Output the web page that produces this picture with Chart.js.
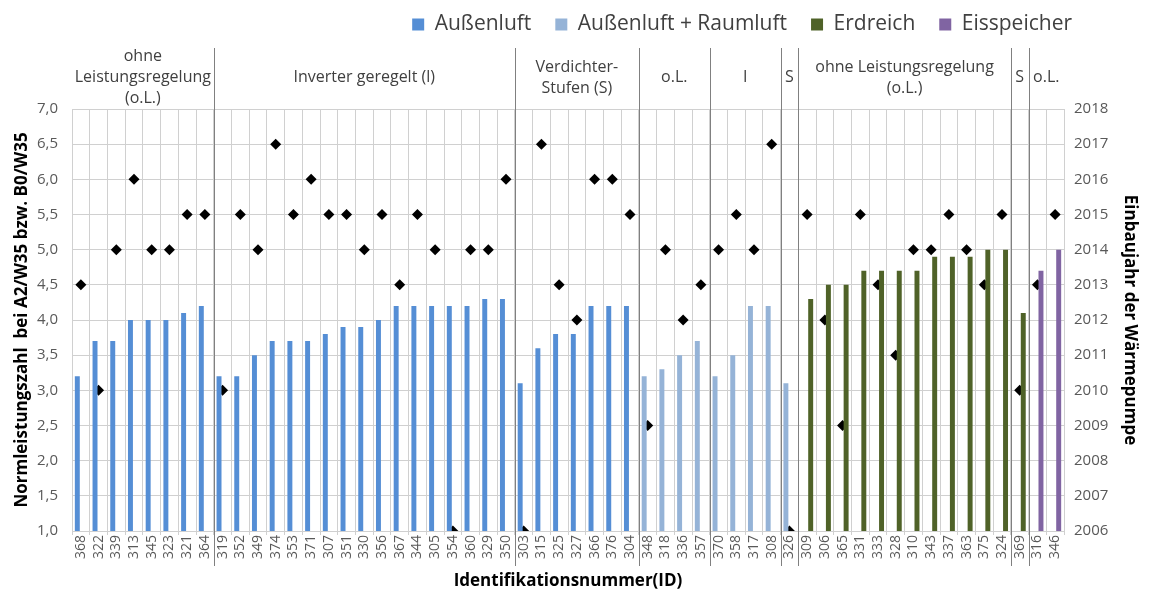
<!DOCTYPE html>
<html>
<head>
<meta charset="utf-8">
<script src="https://cdn.jsdelivr.net/npm/chart.js@4.4.0/dist/chart.umd.min.js"></script>
<style>
  html, body { margin: 0; padding: 0; background: #fff; }
  #wrap { width: 1150px; height: 591px; }
</style>
</head>
<body>
<div id="wrap"><canvas id="chart"></canvas></div>
<script>
// Identifikationsnummern, in Reihenfolge der Gruppen
const ids = ['368','322','339','313','345','323','321','364',
  '319','352','349','374','353','371','307','351','330','356','367','344','305','354','360','329','350',
  '303','315','325','327','366','376','304',
  '348','318','336','357',
  '370','358','317','308',
  '326',
  '309','306','365','331','333','328','310','343','337','363','375','324',
  '369',
  '316','346'];

// Normleistungszahl je Wärmequelle
const aussenluft = [3.2,3.7,3.7,4.0,4.0,4.0,4.1,4.2,
  3.2,3.2,3.5,3.7,3.7,3.7,3.8,3.9,3.9,4.0,4.2,4.2,4.2,4.2,4.2,4.3,4.3,
  3.1,3.6,3.8,3.8,4.2,4.2,4.2,
  null,null,null,null, null,null,null,null, null,
  null,null,null,null,null,null,null,null,null,null,null,null, null, null,null];
const raumluft = [null,null,null,null,null,null,null,null,
  null,null,null,null,null,null,null,null,null,null,null,null,null,null,null,null,null,
  null,null,null,null,null,null,null,
  3.2,3.3,3.5,3.7, 3.2,3.5,4.2,4.2, 3.1,
  null,null,null,null,null,null,null,null,null,null,null,null, null, null,null];
const erdreich = [null,null,null,null,null,null,null,null,
  null,null,null,null,null,null,null,null,null,null,null,null,null,null,null,null,null,
  null,null,null,null,null,null,null,
  null,null,null,null, null,null,null,null, null,
  4.3,4.5,4.5,4.7,4.7,4.7,4.7,4.9,4.9,4.9,5.0,5.0, 4.1, null,null];
const eisspeicher = [null,null,null,null,null,null,null,null,
  null,null,null,null,null,null,null,null,null,null,null,null,null,null,null,null,null,
  null,null,null,null,null,null,null,
  null,null,null,null, null,null,null,null, null,
  null,null,null,null,null,null,null,null,null,null,null,null, null, 4.7,5.0];

// Einbaujahr der Wärmepumpe (rechte Achse)
const einbaujahr = [2013,2010,2014,2016,2014,2014,2015,2015,
  2010,2015,2014,2017,2015,2016,2015,2015,2014,2015,2013,2015,2014,2006,2014,2014,2016,
  2006,2017,2013,2012,2016,2016,2015,
  2009,2014,2012,2013,
  2014,2015,2014,2017,
  2006,
  2015,2012,2009,2015,2013,2011,2014,2014,2015,2014,2013,2015,
  2010,
  2013,2015];

// Gruppen über dem Diagramm
const gruppenAnzahl = [8, 17, 7, 4, 4, 1, 12, 1, 2];
const gruppenText = [
  ['ohne', 'Leistungsregelung', '(o.L.)'],
  ['Inverter geregelt (l)'],
  ['Verdichter-', 'Stufen (S)'],
  ['o.L.'],
  ['I'],
  ['S'],
  ['ohne Leistungsregelung', '(o.L.)'],
  ['S'],
  ['o.L.'],
];

const FONT = "'Open Sans', 'Noto Sans', sans-serif";
Chart.defaults.font.family = FONT;

// Platz für die Gruppenköpfe unter der Legende, Legende etwas nach links/oben
const legendGap = {
  id: 'legendGap',
  beforeInit(chart) {
    const legend = chart.legend;
    const fit = legend.fit;
    legend.fit = function () {
      fit.bind(legend)();
      this.height += 50;
    };
    const draw = legend.draw;
    legend.draw = function () {
      const ctx = chart.ctx;
      ctx.save();
      ctx.translate(-44, -14);
      draw.bind(legend)();
      ctx.restore();
    };
  }
};

const gruppen = {
  id: 'gruppen',
  afterDraw(chart) {
    const { ctx, scales: { x } } = chart;
    const half = (x.getPixelForTick(1) - x.getPixelForTick(0)) / 2;
    ctx.save();
    let start = 0;
    gruppenAnzahl.forEach((n, g) => {
      const left = x.getPixelForTick(start) - half;
      const right = x.getPixelForTick(start + n - 1) + half;
      // Trennlinie rechts der Gruppe
      if (g < gruppenAnzahl.length - 1) {
        ctx.strokeStyle = '#808080';
        ctx.lineWidth = 1;
        ctx.beginPath();
        ctx.moveTo(Math.round(right) + 0.5, 48);
        ctx.lineTo(Math.round(right) + 0.5, 566);
        ctx.stroke();
      }
      const lines = gruppenText[g];
      ctx.fillStyle = '#404040';
      ctx.font = '16px ' + FONT;
      ctx.textAlign = 'center';
      ctx.textBaseline = 'middle';
      const cy = 77.5 - (lines.length - 1) * 21 / 2;
      lines.forEach((t, i) => ctx.fillText(t, (left + right) / 2, cy + i * 21));
      start += n;
    });
    ctx.restore();
  }
};

const barDefaults = { borderWidth: 0, categoryPercentage: 0.8, barPercentage: 0.7, yAxisID: 'y' };

new Chart(document.getElementById('chart'), {
  type: 'bar',
  data: {
    labels: ids,
    datasets: [
      { ...barDefaults, label: 'Außenluft', data: aussenluft, backgroundColor: '#558ed5', stack: 'luft' },
      { ...barDefaults, label: 'Außenluft + Raumluft', data: raumluft, backgroundColor: '#95b3d7', stack: 'luft' },
      { ...barDefaults, label: 'Erdreich', data: erdreich, backgroundColor: '#4f6228', stack: 'erde' },
      { ...barDefaults, label: 'Eisspeicher', data: eisspeicher, backgroundColor: '#8064a2', stack: 'erde' },
      {
        type: 'line', label: 'Einbaujahr', data: einbaujahr, yAxisID: 'y1',
        showLine: false, pointStyle: 'rectRot', pointRadius: 5.5,
        backgroundColor: '#000', borderColor: '#000', borderWidth: 0
      }
    ]
  },
  options: {
    responsive: true,
    maintainAspectRatio: false,
    animation: false,
    layout: { padding: { left: 12, right: 10, top: 4, bottom: 0 } },
    plugins: {
      legend: {
        position: 'top',
        align: 'end',
        labels: {
          boxWidth: 12, boxHeight: 12, padding: 24,
          color: '#404040', font: { size: 21 },
          filter: item => item.datasetIndex < 4
        }
      },
      tooltip: { enabled: false }
    },
    scales: {
      x: {
        afterFit: s => { s.height = 60; },
        grid: { color: '#d0d0d0', tickLength: 4 },
        border: { color: '#d0d0d0' },
        ticks: { color: '#595959', font: { size: 14 }, minRotation: 90, maxRotation: 90, autoSkip: false, padding: 0 },
        title: { display: true, text: 'Identifikationsnummer(ID)', color: '#000', font: { size: 17, weight: 'bold' }, padding: { top: 2, bottom: 0 } }
      },
      y: {
        min: 1, max: 7,
        afterFit: s => { s.width = 60; },
        grid: { color: '#d0d0d0', tickLength: 0 },
        border: { color: '#d0d0d0' },
        ticks: { stepSize: 0.5, color: '#595959', font: { size: 15 }, padding: 14,
          callback: v => v.toFixed(1).replace('.', ',') },
        title: { display: true, text: 'Normleistungszahl  bei A2/W35 bzw. B0/W35', color: '#000', font: { size: 17, weight: 'bold' }, padding: { top: 0, bottom: 2 } }
      },
      y1: {
        position: 'right',
        min: 2006, max: 2018,
        afterFit: s => { s.width = 76; },
        grid: { drawOnChartArea: false, tickLength: 0 },
        border: { display: false },
        ticks: { stepSize: 1, color: '#595959', font: { size: 15 }, padding: 10, callback: v => String(v) },
        title: { display: true, text: 'Einbaujahr der Wärmepumpe', color: '#000', font: { size: 17, weight: 'bold' }, padding: { top: 0, bottom: 0 } }
      }
    }
  },
  plugins: [legendGap, gruppen]
});
</script>
</body>
</html>
